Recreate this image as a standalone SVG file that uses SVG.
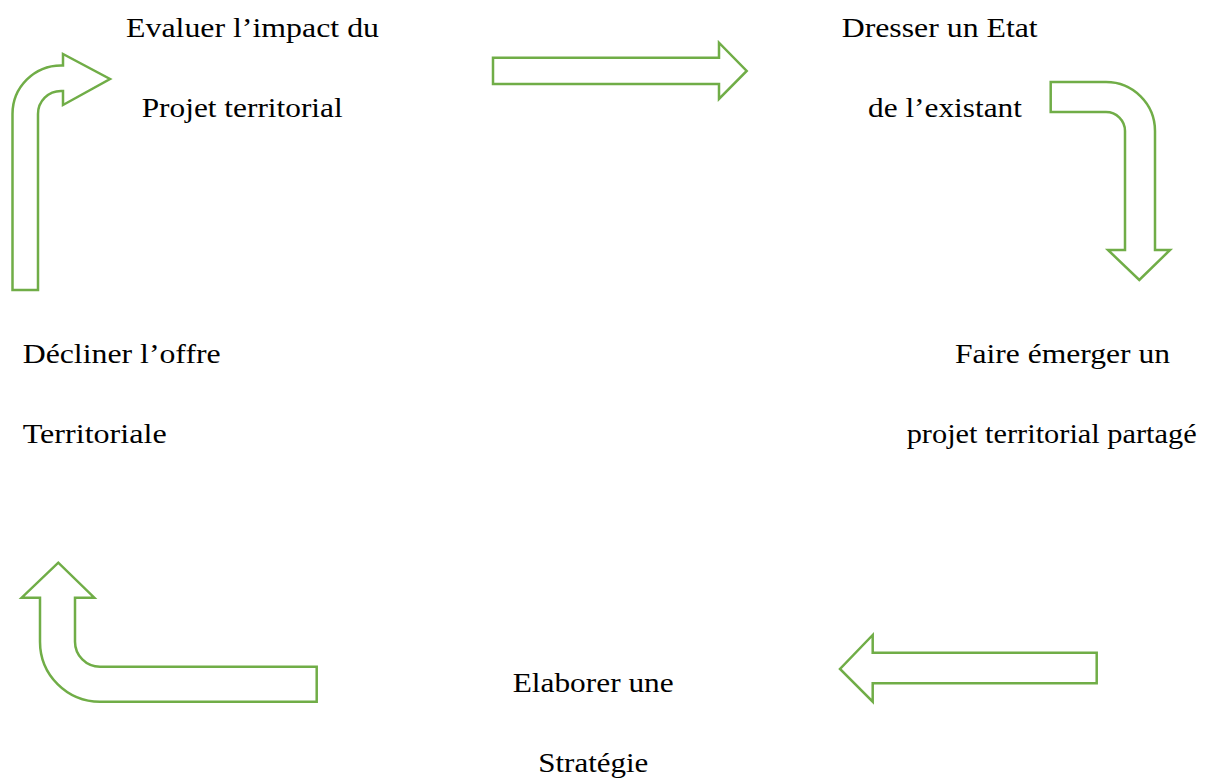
<svg xmlns="http://www.w3.org/2000/svg" width="1221" height="778" viewBox="0 0 1221 778">
<style>
.arr{fill:#fff;stroke:#70AD47;stroke-width:2.5;stroke-linejoin:miter}
.t{font-family:"Liberation Serif","Times New Roman",serif;font-size:27px;fill:#000}
</style>
<rect width="1221" height="778" fill="#fff"/>
<g id="connectors">
<path class="arr" d="M12.5,290 L12.5,114 A48.5,48.5 0 0 1 61,65.5 L63,65.5 L63,54 L110,79 L63,105 L63,91 L61,91 A23,23 0 0 0 38,114 L38,290 Z"/>
<path class="arr" d="M493,57.7 L719,57.7 L719,42.7 L746.7,71 L719,99 L719,84 L493,84 Z"/>
<path class="arr" d="M1050.7,82 L1106,82 A49,49 0 0 1 1155,131 L1155,250 L1170,250 L1139.3,280 L1108,250 L1125,250 L1125,131 A19,19 0 0 0 1106,112 L1050.7,112 Z"/>
<path class="arr" d="M316.7,701.7 L100,701.7 A60,60 0 0 1 40,641.7 L40,597.7 L21.7,597.7 L58.3,562.7 L94.3,597.7 L75,597.7 L75,641.7 A25,25 0 0 0 100,666.7 L316.7,666.7 Z"/>
<path class="arr" d="M1096.7,652.7 L872.7,652.7 L872.7,635 L840,669 L872.7,701.7 L872.7,683.3 L1096.7,683.3 Z"/>
</g>
<g id="n1"><text class="t" x="126" y="36.7" textLength="253" lengthAdjust="spacingAndGlyphs">Evaluer l’impact du</text><text class="t" x="141.7" y="116.7" textLength="201" lengthAdjust="spacingAndGlyphs">Projet territorial</text></g>
<g id="n2"><text class="t" x="841.7" y="36.7" textLength="196" lengthAdjust="spacingAndGlyphs">Dresser un Etat</text><text class="t" x="868" y="116.7" textLength="154" lengthAdjust="spacingAndGlyphs">de l’existant</text></g>
<g id="n3"><text class="t" x="955" y="363.3" textLength="215" lengthAdjust="spacingAndGlyphs">Faire émerger un</text><text class="t" x="906.7" y="443.3" textLength="290" lengthAdjust="spacingAndGlyphs">projet territorial partagé</text></g>
<g id="n4"><text class="t" x="512.7" y="691.7" textLength="161" lengthAdjust="spacingAndGlyphs">Elaborer une</text><text class="t" x="538.3" y="771.7" textLength="110" lengthAdjust="spacingAndGlyphs">Stratégie</text></g>
<g id="n5"><text class="t" x="22.7" y="363.3" textLength="198" lengthAdjust="spacingAndGlyphs">Décliner l’offre</text><text class="t" x="22.7" y="443.3" textLength="144" lengthAdjust="spacingAndGlyphs">Territoriale</text></g>
</svg>
